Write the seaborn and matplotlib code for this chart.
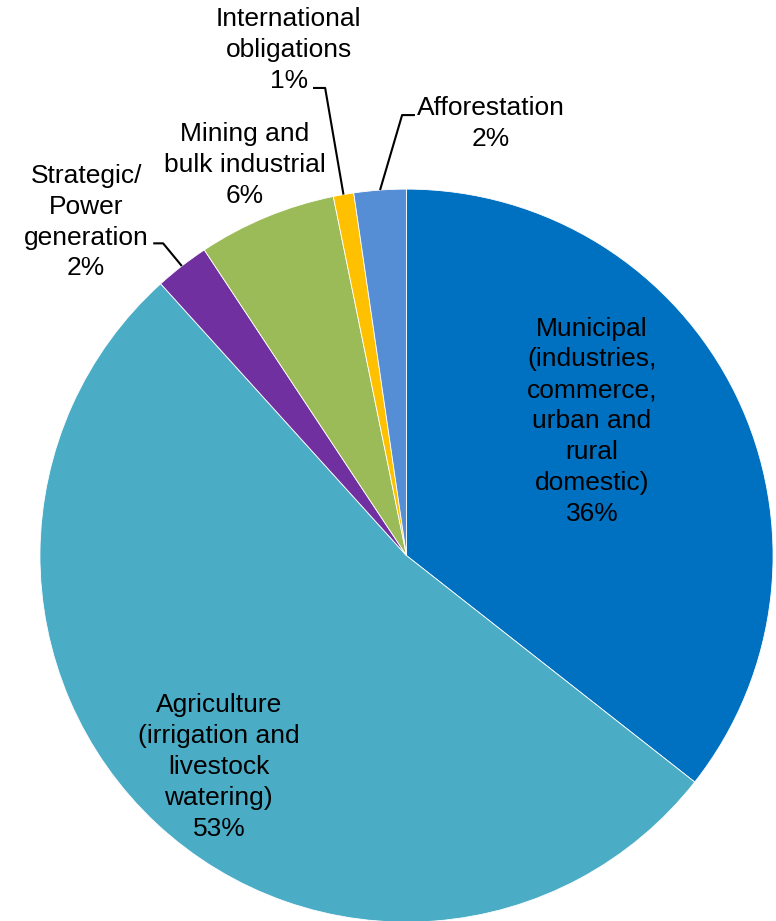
import numpy as np
import matplotlib
matplotlib.use("Agg")
import matplotlib.pyplot as plt
import seaborn as sns

# Water use by sector (share of total, %)
sectors = [
    "Municipal\n(industries,\ncommerce,\nurban and\nrural\ndomestic)",
    "Agriculture\n(irrigation and\nlivestock\nwatering)",
    "Strategic/\nPower\ngeneration",
    "Mining and\nbulk industrial",
    "International\nobligations",
    "Afforestation",
]
shares = [35.6, 52.7, 2.4, 6.1, 0.9, 2.3]
colors = ["#0070C0", "#4BACC6", "#7030A0", "#9BBB59", "#FFC000", "#558ED5"]

sns.set_theme(style="white")
plt.rcParams["font.family"] = ["Liberation Sans", "DejaVu Sans"]

fig = plt.figure(figsize=(7.76, 9.21), dpi=100)
ax = fig.add_axes([0, 0, 1, 1])

wedges, _ = ax.pie(
    shares,
    colors=colors,
    startangle=90,
    counterclock=False,
    radius=1.0,
    wedgeprops=dict(edgecolor="white", linewidth=0.6),
)

ax.set_aspect("auto")
ax.set_xlim(-1.109, 1.008)
ax.set_ylim(-0.997, 1.516)
ax.axis("off")

# label placement: (x, y) text centre; leader elbows for the small slices
label_pos = [
    (0.506, 0.367),
    (-0.512, -0.577),
    (-0.874, 0.910),
    (-0.441, 1.066),
    (-0.321, 1.379),
    (0.231, 1.180),
]
leaders = {
    2: [(-0.691, 0.852), (-0.664, 0.852)],
    4: [(-0.255, 1.276), (-0.222, 1.276)],
    5: [(0.023, 1.202), (-0.012, 1.202)],
}

fs = 19
for i, (w, name, val) in enumerate(zip(wedges, sectors, shares)):
    x, y = label_pos[i]
    ax.text(x, y, f"{name}\n{round(val):d}%", ha="center", va="center",
            fontsize=fs, color="black", linespacing=1.36)
    if i in leaders:
        mid = np.deg2rad((w.theta1 + w.theta2) / 2)
        ex, ey = np.cos(mid) * w.r, np.sin(mid) * w.r
        (p1, p2) = leaders[i]
        ax.plot([p1[0], p2[0], ex], [p1[1], p2[1], ey], color="black",
                linewidth=1.5, solid_capstyle="butt")

fig.savefig("out.png", dpi=100, facecolor="white")
